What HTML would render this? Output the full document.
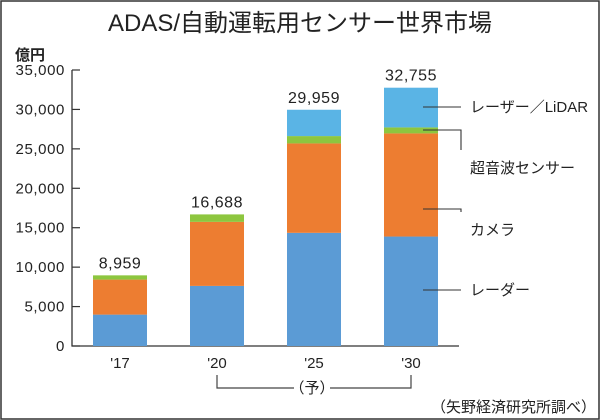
<!DOCTYPE html>
<html><head><meta charset="utf-8"><style>
html,body{margin:0;padding:0;background:#fff;}
#wrap{position:relative;width:600px;height:420px;overflow:hidden;background:#fff;}
svg text{font-family:"Liberation Sans","Noto Sans CJK JP",sans-serif;fill:#222;}
</style></head><body>
<div id="wrap">
<svg id="chart" width="600" height="420" xmlns="http://www.w3.org/2000/svg">
<rect x="1" y="1" width="598" height="418" fill="none" stroke="#333" stroke-width="1.5"/>
<text x="300" y="31" text-anchor="middle" font-size="24">ADAS/自動運転用センサー世界市場</text>
<text x="15" y="60" font-size="15" font-weight="bold">億円</text>
<g id="axes"></g><g id="bars"></g><g id="legend"></g>
<g>
<path d="M217 375 V388 H294 M330 388 H411 V375" fill="none" stroke="#444" stroke-width="1.2"/>
<text x="312" y="393" text-anchor="middle" font-size="15">（予）</text>
</g>
<text x="596" y="412" text-anchor="end" font-size="15">（矢野経済研究所調べ）</text>
</svg>
</div>
<script>
const categories=["'17","'20","'25","'30"];
const radar=[3980,7620,14350,13880];
const camera=[4440,8120,11340,13080];
const ultrasonic=[539,948,930,760];
const lidar=[0,0,3339,5035];
const totals=["8,959","16,688","29,959","32,755"];
const yTicks=[0,5000,10000,15000,20000,25000,30000,35000];
const yTickLabels=["0","5,000","10,000","15,000","20,000","25,000","30,000","35,000"];
const seriesNames=["レーダー","カメラ","超音波センサー","レーザー／LiDAR"];
const colors=["#5b9bd5","#ed7d31","#8dc63f","#5ab4e5"];

const NS="http://www.w3.org/2000/svg";
const x0=72,xEnd=459,y0=346,yTop=70,yMax=35000;
const y=v=>y0-(v/yMax)*(y0-yTop);
const xC=i=>120+i*97;
const bw=54;
function mk(t,a,p){const e=document.createElementNS(NS,t);for(const k in a)e.setAttribute(k,a[k]);(p||document.getElementById('chart')).appendChild(e);return e;}
const axes=document.getElementById('axes'),bars=document.getElementById('bars'),legend=document.getElementById('legend');
let ax=mk('path',{d:`M${x0} ${yTop} V${y0} H${xEnd}`,fill:'none',stroke:'#333','stroke-width':1.3},axes);


yTicks.forEach((t,i)=>{
 const tk=mk('line',{x1:x0,x2:x0+8,y1:y(t),y2:y(t),stroke:'#333','stroke-width':1.2},axes);
 
 
 const tl=mk('text',{x:65,y:y(t)+5,'text-anchor':'end','font-size':15,'letter-spacing':0.6},axes);
 tl.textContent=yTickLabels[i];
 
 
});
const series=[radar,camera,ultrasonic,lidar];
categories.forEach((c,i)=>{
 let base=0;
 series.forEach((s,j)=>{
  const v=s[i]; if(v<=0)return;
  const r=mk('rect',{x:xC(i)-bw/2,y:y(base+v),width:bw,height:y(base)-y(base+v),fill:colors[j]},bars);
  
  
  base+=v;
 });
 const tv=mk('text',{x:xC(i),y:y(base)-7,'text-anchor':'middle','font-size':16,'letter-spacing':0.5},bars);
 tv.textContent=totals[i];
 
 
 const xl=mk('text',{x:xC(i),y:368,'text-anchor':'middle','font-size':15},bars);
 xl.textContent=categories[i];
 
 
});
const li=categories.length-1;
function cum(k){let s=0;for(let j=0;j<k;j++)s+=series[j][li];return s;}
const items=[
 {k:3,ly:107,ty:107,bend:false},
 {k:2,ly:130,ty:168,bend:true},
 {k:1,ly:209,ty:230,bend:true},
 {k:0,ly:290,ty:290,bend:false}
];
items.forEach(it=>{
 const d=it.bend?`M423 ${it.ly} H461 V${it.ty-18}`:`M423 ${it.ly} H461`;
 const p=mk('path',{d:d,fill:'none',stroke:'#333','stroke-width':1.1},legend);
 
 
 const t=mk('text',{x:470,y:it.ty+5,'font-size':15},legend);
 t.textContent=seriesNames[it.k];
 
 
});
</script>
</body></html>
